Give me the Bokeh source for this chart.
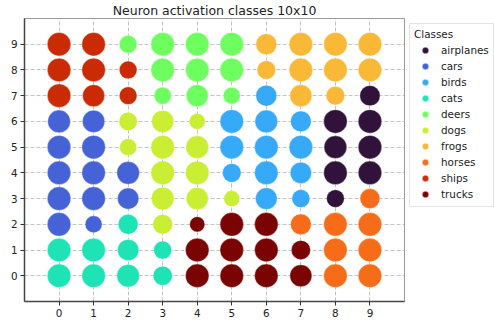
from bokeh.plotting import figure
from bokeh.models import ColumnDataSource, FixedTicker, Legend, LegendItem
from bokeh.embed import file_html
from bokeh.resources import INLINE

classes = ["airplanes", "cars", "birds", "cats", "deers", "dogs",
           "frogs", "horses", "ships", "trucks"]
colors = ["#30123b", "#4562d7", "#36a9f8", "#1de3b5", "#6ffe5f",
          "#c9ee33", "#f9b937", "#f66c19", "#cb2b04", "#7a0403"]

# grid rows from y=9 (top) down to y=0; columns x=0..9
row_y = [9, 8, 7, 6, 5, 4, 3, 2, 1, 0]
class_grid = [
    [8, 8, 4, 4, 4, 4, 6, 6, 6, 6],
    [8, 8, 8, 4, 4, 4, 6, 6, 6, 6],
    [8, 8, 8, 4, 4, 4, 2, 6, 6, 0],
    [1, 1, 5, 5, 5, 2, 2, 2, 0, 0],
    [1, 1, 5, 5, 5, 2, 2, 2, 0, 0],
    [1, 1, 1, 5, 5, 2, 2, 2, 0, 0],
    [1, 1, 1, 5, 5, 5, 2, 2, 0, 7],
    [1, 1, 3, 5, 9, 9, 9, 7, 7, 7],
    [3, 3, 3, 3, 9, 9, 9, 9, 7, 7],
    [3, 3, 3, 3, 9, 9, 9, 9, 7, 7],
]
activation = [
    [1.00, 1.00, 0.57, 1.00, 1.00, 1.00, 0.80, 1.00, 1.00, 1.00],
    [1.00, 1.00, 0.57, 1.00, 1.00, 1.00, 0.63, 1.00, 1.00, 1.00],
    [1.00, 0.88, 0.57, 0.54, 0.88, 0.52, 0.80, 0.88, 0.63, 0.75],
    [0.93, 0.90, 0.61, 0.88, 0.46, 1.00, 0.93, 0.78, 1.00, 1.00],
    [1.00, 1.00, 0.52, 1.00, 0.93, 1.00, 1.00, 1.00, 0.93, 1.00],
    [1.00, 1.00, 0.93, 1.00, 1.00, 0.63, 1.00, 0.82, 1.00, 1.00],
    [1.00, 1.00, 0.82, 0.93, 0.88, 0.46, 0.85, 0.59, 0.57, 0.72],
    [1.00, 0.52, 0.72, 0.70, 0.42, 1.00, 1.00, 0.78, 1.00, 1.00],
    [1.00, 1.00, 0.82, 0.59, 1.00, 1.00, 1.00, 0.67, 1.00, 1.00],
    [1.00, 1.00, 0.93, 0.67, 1.00, 1.00, 1.00, 0.88, 1.00, 1.00],
]
ticks = list(range(10))
MAX_D = 23.5

p = figure(frame_width=380, frame_height=283, x_range=(-1, 10), y_range=(-1, 10),
           output_backend="svg", toolbar_location=None,
           title="Neuron activation classes 10x10",
           min_border_left=24, min_border_top=0, min_border_bottom=21,
           min_border_right=0)
p.background_fill_color = "white"
p.border_fill_color = "white"
p.outline_line_color = "#9a9a9a"
p.outline_line_width = 1

p.title.align = "center"
p.title.text_font = "DejaVu Sans"
p.title.text_font_size = "12.5px"
p.title.text_font_style = "normal"
p.title.text_color = "#222222"
p.title.standoff = 1

items = []
for ci, name in enumerate(classes):
    xs, ys, ss = [], [], []
    for r, yv in enumerate(row_y):
        for xv in range(10):
            if class_grid[r][xv] == ci:
                xs.append(xv)
                ys.append(yv)
                ss.append(MAX_D * activation[r][xv] ** 0.5)
    src = ColumnDataSource(dict(x=xs, y=ys, s=ss))
    rr = p.scatter("x", "y", size="s", source=src, fill_color=colors[ci],
                   line_color="white", line_alpha=0.45, line_width=0.8)
    items.append(LegendItem(label=name, renderers=[rr]))

for ax, grid in ((p.xaxis, p.xgrid), (p.yaxis, p.ygrid)):
    ax.ticker = FixedTicker(ticks=ticks)
    ax.minor_tick_line_color = None
    ax.major_tick_out = 4
    ax.major_tick_in = 0
    ax.major_tick_line_color = "#333333"
    ax.axis_line_color = "#444444"
    ax.axis_line_width = 1.5
    ax.major_label_text_font = "DejaVu Sans"
    ax.major_label_text_font_size = "10.4px"
    ax.major_label_text_color = "#222222"
    ax.major_label_standoff = 3
    grid.ticker = FixedTicker(ticks=ticks)
    grid.grid_line_color = "#b5b5b5"
    grid.grid_line_dash = "4 2"
    grid.grid_line_width = 0.8

legend = Legend(items=items, title="Classes", location="top_left")
legend.margin = 5
legend.padding = 4
legend.spacing = 0
legend.glyph_width = 22
legend.glyph_height = 16
legend.label_standoff = 5
legend.label_height = 16
legend.label_text_font = "DejaVu Sans"
legend.label_text_font_size = "10.4px"
legend.label_text_color = "#222222"
legend.title_text_font = "DejaVu Sans"
legend.title_text_font_size = "10.4px"
legend.title_text_font_style = "normal"
legend.title_text_color = "#222222"
legend.title_text_align = "center"
legend.title_standoff = 2
legend.border_line_color = "#cccccc"
legend.background_fill_color = "white"
p.add_layout(legend, "right")

open("out.html", "w").write(file_html(p, INLINE))
